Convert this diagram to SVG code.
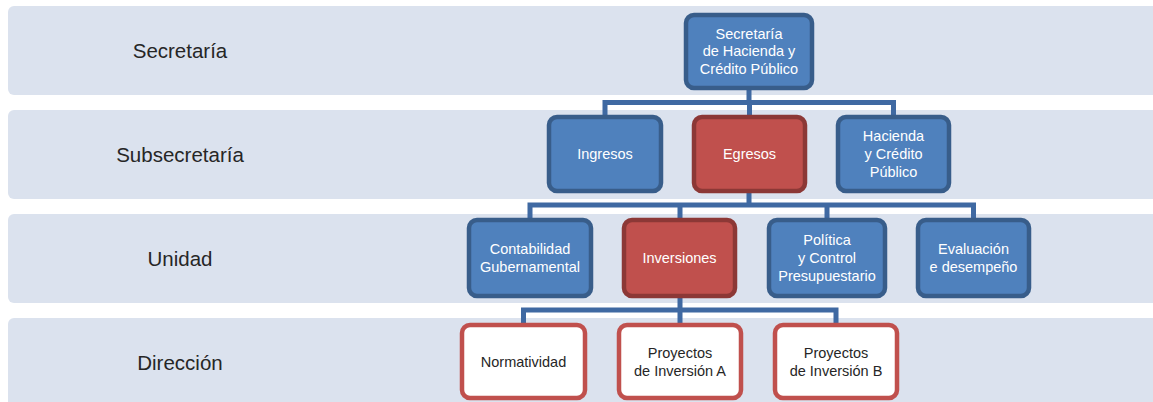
<svg xmlns="http://www.w3.org/2000/svg" width="1153" height="402" viewBox="0 0 1153 402">
<defs>
<style>
.band{fill:#dbe2ee;}
.lvl{font-family:"Liberation Sans",Arial,sans-serif;font-size:20.5px;fill:#262626;text-anchor:middle;}
.blue{fill:#4f81bd;stroke:#385d8a;stroke-width:4.5;}
.red{fill:#c0504d;stroke:#8c3836;stroke-width:4.5;}
.white{fill:#ffffff;stroke:#c0504d;stroke-width:4.5;}
.t{font-family:"Liberation Sans",Arial,sans-serif;font-size:14.5px;fill:#ffffff;text-anchor:middle;}
.td{font-family:"Liberation Sans",Arial,sans-serif;font-size:14.5px;fill:#262626;text-anchor:middle;}
.conn{fill:none;stroke:#3f69a2;stroke-width:5;stroke-linejoin:miter;}
</style>
</defs>
<rect width="1153" height="402" fill="#ffffff"/>
<g id="bands">
<rect class="band" x="8" y="6" width="1160" height="89" rx="6"/>
<rect class="band" x="8" y="110" width="1160" height="89" rx="6"/>
<rect class="band" x="8" y="214" width="1160" height="89" rx="6"/>
<rect class="band" x="8" y="318" width="1160" height="100" rx="6"/>
<text class="lvl" x="180" y="57.5">Secretaría</text>
<text class="lvl" x="180" y="161.5">Subsecretaría</text>
<text class="lvl" x="180" y="265.5">Unidad</text>
<text class="lvl" x="180" y="369.5">Dirección</text>
</g>
<g id="connectors">
<path class="conn" d="M749 90 V102.5 M605 115 V102.5 H893.5 V115 M749.5 102.5 V115"/>
<path class="conn" d="M749 193 V205 M530 218 V205 H973.5 V218 M680 205 V218 M827 205 V218"/>
<path class="conn" d="M680 298 V310 M523.5 323 V310 H836 V323 M680 310 V323"/>
</g>
<g id="shcp">
<rect class="blue" x="686" y="15" width="126" height="73" rx="8"/>
<text class="t" x="749" y="38.5">Secretaría</text>
<text class="t" x="749" y="56">de Hacienda y</text>
<text class="t" x="749" y="73.5">Crédito Público</text>
</g>
<g id="ingresos">
<rect class="blue" x="549" y="117" width="112" height="74" rx="8"/>
<text class="t" x="605" y="159">Ingresos</text>
</g>
<g id="egresos">
<rect class="red" x="694" y="117" width="111" height="74" rx="8"/>
<text class="t" x="749.5" y="159">Egresos</text>
</g>
<g id="hacienda">
<rect class="blue" x="838" y="117" width="111" height="74" rx="8"/>
<text class="t" x="893.5" y="141">Hacienda</text>
<text class="t" x="893.5" y="159">y Crédito</text>
<text class="t" x="893.5" y="177">Público</text>
</g>
<g id="contabilidad">
<rect class="blue" x="469" y="220" width="122" height="76" rx="8"/>
<text class="t" x="530" y="254">Contabilidad</text>
<text class="t" x="530" y="272">Gubernamental</text>
</g>
<g id="inversiones">
<rect class="red" x="624" y="220" width="111" height="76" rx="8"/>
<text class="t" x="679.5" y="263">Inversiones</text>
</g>
<g id="politica">
<rect class="blue" x="769" y="220" width="116" height="76" rx="8"/>
<text class="t" x="827" y="245">Política</text>
<text class="t" x="827" y="263">y Control</text>
<text class="t" x="827" y="281">Presupuestario</text>
</g>
<g id="evaluacion">
<rect class="blue" x="918" y="220" width="111" height="76" rx="8"/>
<text class="t" x="973.5" y="254">Evaluación</text>
<text class="t" x="973.5" y="272">e desempeño</text>
</g>
<g id="normatividad">
<rect class="white" x="462" y="325" width="123" height="73" rx="8"/>
<text class="td" x="523.5" y="366.5">Normatividad</text>
</g>
<g id="proyectosA">
<rect class="white" x="619" y="325" width="122" height="73" rx="8"/>
<text class="td" x="680" y="358">Proyectos</text>
<text class="td" x="680" y="376">de Inversión A</text>
</g>
<g id="proyectosB">
<rect class="white" x="775" y="325" width="122" height="73" rx="8"/>
<text class="td" x="836" y="358">Proyectos</text>
<text class="td" x="836" y="376">de Inversión B</text>
</g>
</svg>
